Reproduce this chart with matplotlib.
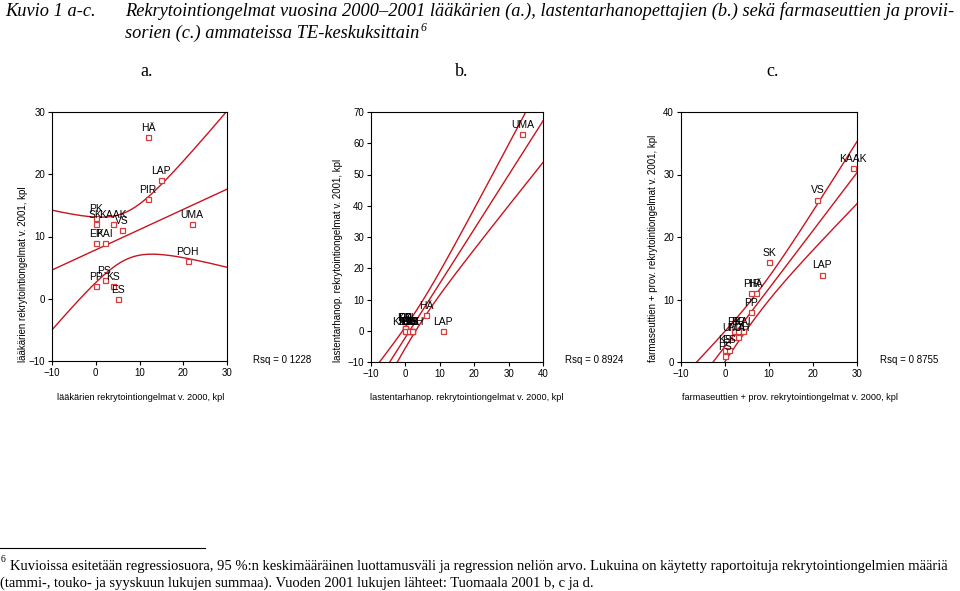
import matplotlib
matplotlib.use('Agg')
import matplotlib.pyplot as plt
from matplotlib.lines import Line2D
import numpy as np

plt.rcParams['font.family'] = ['Liberation Sans', 'DejaVu Sans']

# TE-keskukset and recruitment problems, 2000 (x) vs 2001 (y)
names = ['PK', 'SK', 'KAAK', 'VS', 'EP', 'KAI', 'PS', 'PP', 'KS', 'ES',
         'HÄ', 'LAP', 'PIR', 'UMA', 'POH']

# a. laakarit
a_x = [0, 0, 4, 6, 0, 2, 2, 0, 4, 5, 12, 15, 12, 22, 21]
a_y = [13, 12, 12, 11, 9, 9, 3, 2, 2, 0, 26, 19, 16, 12, 6]

# b. lastentarhanopettajat
b_x = [0, 1, 0, 2, 0, 0, 1, 0, 2, 0, 6, 11, 1, 34, 2]
b_y = [1, 0, 0, 0, 1, 1, 0, 1, 0, 0, 5, 0, 0, 63, 0]

# c. farmaseutit + proviisorit
c_x = [2, 10, 29, 21, 3, 4, 0, 6, 0, 1, 7, 22, 6, 2, 3]
c_y = [5, 16, 31, 26, 5, 5, 1, 8, 2, 2, 11, 14, 11, 4, 4]

rsq_txt = ['Rsq = 0 1228', 'Rsq = 0 8924', 'Rsq = 0 8755']
xlabels = ['lääkärien rekrytointiongelmat v. 2000, kpl',
           'lastentarhanop. rekrytointiongelmat v. 2000, kpl',
           'farmaseuttien + prov. rekrytointiongelmat v. 2000, kpl']
ylabels = ['lääkärien rekrytointiongelmat v. 2001, kpl',
           'lastentarhanop. rekrytointiongelmat v. 2001, kpl',
           'farmaseuttien + prov. rekrytointiongelmat v. 2001, kpl']

T95 = 2.160  # t(0.975, df=13)

W, H = 960., 591.
fig = plt.figure(figsize=(9.6, 5.91), dpi=100)

def ax_box(l, r, t, b):
    return [l / W, 1 - b / H, (r - l) / W, (b - t) / H]

boxes = [ax_box(52, 227, 112, 361), ax_box(371, 543, 112, 362), ax_box(681, 857, 112, 362)]
xlims = [(-10, 30), (-10, 40), (-10, 30)]
ylims = [(-10, 30), (-10, 70), (0, 40)]
xticks = [range(-10, 31, 10), range(-10, 41, 10), range(-10, 31, 10)]
yticks = [range(-10, 31, 10), range(-10, 71, 10), range(0, 41, 10)]

linecol = '#c8141e'
mcol = '#d63c3c'

def plot_panel(ax, x, y, i):
    x = np.array(x, float)
    y = np.array(y, float)
    n = len(x)
    k, c = np.polyfit(x, y, 1)
    xx = np.linspace(xlims[i][0], xlims[i][1], 300)
    fit = k * xx + c
    res = y - (k * x + c)
    s = np.sqrt(np.sum(res ** 2) / (n - 2))
    se = s * np.sqrt(1. / n + (xx - x.mean()) ** 2 / np.sum((x - x.mean()) ** 2))
    for yy in (fit, fit + T95 * se, fit - T95 * se):
        ax.plot(xx, yy, color=linecol, lw=1.0)
    ax.plot(x, y, 's', ms=3.6, mfc='white', mec=mcol, mew=0.9, zorder=3)
    for nm, px, py in zip(names, x, y):
        ax.annotate(nm, (px, py), xytext=(0, 3), textcoords='offset points',
                    ha='center', va='bottom', fontsize=7.5, color='black')
    ax.set_xlim(xlims[i])
    ax.set_ylim(ylims[i])
    ax.set_xticks(list(xticks[i]))
    ax.set_yticks(list(yticks[i]))
    ax.tick_params(labelsize=7, length=3, width=0.8, direction='out', pad=2)
    for sp in ax.spines.values():
        sp.set_linewidth(0.8)

data = [(a_x, a_y), (b_x, b_y), (c_x, c_y)]
for i in range(3):
    ax = fig.add_axes(boxes[i])
    plot_panel(ax, data[i][0], data[i][1], i)

# axis labels and Rsq
ylab_x = [23, 338, 653]
xlab_x = [57, 370, 682]
rsq_x = [253, 565, 880]
for i in range(3):
    fig.text(ylab_x[i] / W, 1 - 362 / H, ylabels[i], rotation=90, ha='center',
             va='bottom', fontsize=7)
    fig.text(xlab_x[i] / W, 1 - 398 / H, xlabels[i], ha='left', va='center',
             fontsize=6.6, family=['Liberation Sans Narrow', 'Liberation Sans'])
    fig.text(rsq_x[i] / W, 1 - 360 / H, rsq_txt[i], ha='left', va='center', fontsize=7)

# heading
serif = ['Liberation Serif', 'DejaVu Serif']
fig.text(5 / W, 1 - 16 / H, 'Kuvio 1 a-c.', family=serif, style='italic',
         fontsize=13.2, va='baseline')
fig.text(125 / W, 1 - 16 / H,
         'Rekrytointiongelmat vuosina 2000–2001 lääkärien (a.), lastentarhanopettajien (b.) sekä farmaseuttien ja provii-',
         family=serif, style='italic', fontsize=13.2, va='baseline')
t2 = fig.text(125 / W, 1 - 38 / H, 'sorien (c.) ammateissa TE-keskuksittain',
              family=serif, style='italic', fontsize=13.2, va='baseline')
fig.canvas.draw()
bb = t2.get_window_extent()
fig.text((bb.x1 + 1) / W, 1 - 31 / H, '6', family=serif, style='italic',
         fontsize=8.5, va='baseline')
for lab, px in zip(['a.', 'b.', 'c.'], [140, 455, 766]):
    fig.text(px / W, 1 - 76 / H, lab, family=serif, fontsize=13, va='baseline')

# footnote
fig.add_artist(Line2D([0, 205 / W], [1 - 548 / H, 1 - 548 / H], color='black', lw=0.8))
fig.text(1 / W, 1 - 562 / H, '6', family=serif, fontsize=7, va='baseline')
fig.text(10 / W, 1 - 570 / H,
         'Kuvioissa esitetään regressiosuora, 95 %:n keskimääräinen luottamusväli ja regression neliön arvo. Lukuina on käytetty raportoituja rekrytointiongelmien määriä',
         family=serif, fontsize=10.5, va='baseline')
fig.text(0 / W, 1 - 587 / H,
         '(tammi-, touko- ja syyskuun lukujen summaa). Vuoden 2001 lukujen lähteet: Tuomaala 2001 b, c ja d.',
         family=serif, fontsize=10.5, va='baseline')

plt.savefig('out.png', dpi=100)
